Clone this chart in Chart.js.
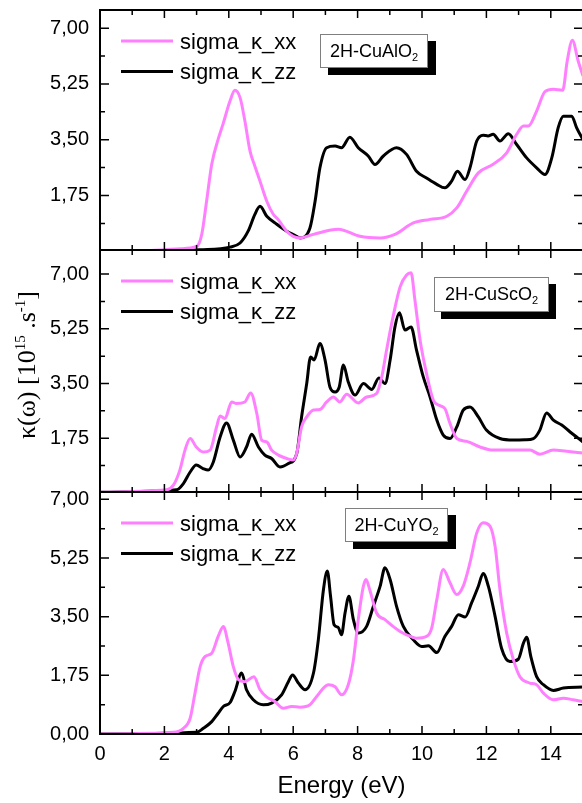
<!DOCTYPE html>
<html>
<head>
<meta charset="utf-8">
<script src="https://cdn.jsdelivr.net/npm/chart.js"></script>
<style>
  html, body { margin: 0; padding: 0; background: #fff; overflow: hidden; }
  #wrap { position: relative; width: 582px; height: 803px; overflow: hidden; }
  canvas { position: absolute; left: 0; }
  .tag {
    position: absolute; box-sizing: border-box; background: #fff;
    border: 1px solid #7f7f7f; box-shadow: 8px 7px 0 #000;
    font: 18px "Liberation Sans", Arial, sans-serif; text-align: center; white-space: nowrap;
  }
  .tag sub { font-size: 11px; vertical-align: -4px; line-height: 0; }
  #ytitle {
    position: absolute; left: -73px; top: 350px; width: 200px; height: 30px; line-height: 30px;
    text-align: center; white-space: nowrap; transform: rotate(-90deg);
    font: 26px "Liberation Serif", "Times New Roman", serif;
  }
  #ytitle sup { font-size: 15px; vertical-align: 10px; line-height: 0; }
</style>
</head>
<body>
<div id="wrap">
  <canvas id="alPanel" width="610" height="252" style="top:0"></canvas>
  <canvas id="scPanel" width="610" height="262" style="top:240px"></canvas>
  <canvas id="yPanel" width="610" height="321" style="top:482px"></canvas>
  <div class="tag" style="left:320px;top:34px;width:108px;height:34px;line-height:32px">2H-CuAlO<sub>2</sub></div>
  <div class="tag" style="left:434px;top:277px;width:115px;height:35px;line-height:33px;box-shadow:7px 7px 0 #000">2H-CuScO<sub>2</sub></div>
  <div class="tag" style="left:345px;top:508px;width:103px;height:34px;line-height:32px">2H-CuYO<sub>2</sub></div>
  <div id="ytitle">κ(ω) [10<sup>15</sup> .s<sup>-1</sup>]</div>
</div>
<script>
const energyTicks = [0, 2, 4, 6, 8, 10, 12, 14];
const kappaTicks = [0, 1.75, 3.5, 5.25, 7];
const seriesNames = ['sigma_κ_xx', 'sigma_κ_zz'];
const pink = '#ff80ff';
const black = '#000000';

// 2H-CuAlO2
const alEnergyXX = [0, 1, 2, 2.5, 3, 3.16, 3.31, 3.47, 3.67, 3.82, 4.04, 4.19, 4.35, 4.5, 4.66, 4.81, 4.97, 5.18, 5.38, 5.53, 5.8, 6, 6.21, 6.63, 7.4, 8.07, 8.7, 9.16, 9.73, 10.25, 10.77, 11.08, 11.39, 11.75, 12.21, 12.63, 12.94, 13.15, 13.3, 13.56, 13.82, 14.08, 14.37, 14.51, 14.67, 14.85, 15];
const alXX = [0, 0, 0.05, 0.08, 0.15, 0.53, 1.57, 2.73, 3.52, 3.99, 4.72, 5.05, 4.82, 4.09, 3.14, 2.67, 2.2, 1.57, 1.16, 1.0, 0.63, 0.47, 0.42, 0.53, 0.69, 0.47, 0.42, 0.53, 0.89, 1.0, 1.1, 1.36, 1.89, 2.46, 2.73, 3.09, 3.67, 3.93, 3.93, 4.4, 5.01, 5.08, 5.05, 5.97, 6.62, 5.97, 5.5];
const alEnergyZZ = [0, 2, 3.1, 4.04, 4.35, 4.6, 4.81, 4.97, 5.18, 5.49, 5.8, 6.05, 6.21, 6.52, 6.68, 6.83, 7.04, 7.3, 7.5, 7.76, 8.02, 8.33, 8.54, 8.8, 9.21, 9.52, 9.83, 10.14, 10.46, 10.71, 10.92, 11.1, 11.34, 11.49, 11.7, 11.9, 12.05, 12.21, 12.42, 12.68, 12.94, 13.25, 13.56, 13.82, 14.03, 14.23, 14.39, 14.65, 14.8, 15];
const alZZ = [0, 0.02, 0.05, 0.13, 0.26, 0.63, 1.16, 1.41, 1.1, 0.85, 0.63, 0.5, 0.42, 0.73, 1.57, 2.62, 3.25, 3.3, 3.25, 3.58, 3.25, 2.99, 2.72, 2.99, 3.25, 3.04, 2.51, 2.3, 2.1, 1.99, 2.2, 2.51, 2.25, 2.62, 3.46, 3.64, 3.62, 3.67, 3.46, 3.69, 3.35, 2.93, 2.62, 2.41, 2.93, 3.88, 4.24, 4.24, 3.88, 3.5];

// 2H-CuScO2
const scEnergyXX = [0, 2.07, 2.28, 2.48, 2.64, 2.8, 2.99, 3.2, 3.42, 3.62, 3.73, 3.88, 4.09, 4.24, 4.5, 4.68, 4.87, 5.02, 5.18, 5.33, 5.54, 5.8, 6, 6.11, 6.26, 6.42, 6.63, 6.83, 7.04, 7.25, 7.45, 7.66, 8.02, 8.28, 8.59, 8.75, 8.9, 9.1, 9.32, 9.52, 9.66, 9.78, 9.94, 10.14, 10.35, 10.51, 10.71, 10.87, 11.08, 11.39, 11.8, 12.21, 12.84, 13.35, 13.66, 14.08, 14.49, 15];
const scXX = [0.02, 0.1, 0.25, 0.73, 1.37, 1.74, 1.47, 1.31, 1.37, 2.11, 2.46, 2.38, 2.91, 2.86, 2.91, 3.2, 2.54, 1.69, 1.63, 1.37, 1.21, 1.1, 1.05, 1.27, 2.11, 2.43, 2.65, 2.67, 2.91, 3.07, 2.91, 3.16, 2.88, 3.07, 3.18, 3.71, 4.57, 5.63, 6.59, 6.97, 7.04, 6.17, 4.89, 3.82, 2.97, 2.81, 2.7, 2.22, 1.74, 1.65, 1.47, 1.37, 1.37, 1.37, 1.24, 1.37, 1.33, 1.28];
const scEnergyZZ = [0, 2.38, 2.59, 2.8, 2.99, 3.2, 3.36, 3.52, 3.73, 3.93, 4.14, 4.35, 4.55, 4.71, 4.92, 5.12, 5.33, 5.59, 5.85, 6.11, 6.26, 6.42, 6.54, 6.65, 6.83, 6.99, 7.14, 7.3, 7.43, 7.56, 7.71, 7.92, 8.18, 8.44, 8.66, 8.85, 9.01, 9.16, 9.3, 9.47, 9.66, 9.83, 10.04, 10.25, 10.46, 10.66, 10.87, 11.08, 11.28, 11.49, 11.75, 12, 12.42, 12.84, 13.2, 13.46, 13.66, 13.87, 14.08, 14.34, 14.6, 15];
const scZZ = [0.02, 0.1, 0.3, 0.67, 0.89, 0.78, 0.73, 0.99, 1.79, 2.24, 1.69, 1.15, 1.47, 1.88, 1.47, 1.21, 1.1, 0.83, 0.94, 1.26, 2.43, 3.5, 4.35, 4.25, 4.78, 4.25, 3.39, 3.23, 3.39, 4.09, 3.55, 3.13, 3.5, 3.31, 3.68, 3.5, 4.25, 5.31, 5.76, 5.21, 5.31, 4.57, 3.71, 3.07, 2.33, 1.85, 1.74, 2.11, 2.65, 2.75, 2.43, 2.01, 1.74, 1.69, 1.7, 1.74, 2.01, 2.56, 2.33, 2.17, 1.95, 1.63];

// 2H-CuYO2
const yEnergyXX = [0, 2.28, 2.59, 2.8, 2.95, 3.11, 3.26, 3.47, 3.67, 3.83, 3.98, 4.14, 4.3, 4.5, 4.78, 4.97, 5.18, 5.43, 5.69, 5.95, 6.21, 6.52, 6.73, 7.09, 7.3, 7.5, 7.71, 7.87, 8.02, 8.18, 8.26, 8.39, 8.59, 8.85, 9.1, 9.32, 9.52, 9.83, 10.14, 10.3, 10.46, 10.66, 10.87, 11.08, 11.28, 11.49, 11.7, 11.9, 12.11, 12.27, 12.42, 12.63, 12.84, 13.04, 13.35, 13.56, 13.77, 14.08, 14.39, 14.7, 15];
const yXX = [0, 0.05, 0.17, 0.47, 1.22, 2.01, 2.31, 2.41, 2.91, 3.21, 2.71, 2.01, 1.62, 1.56, 1.71, 1.32, 1.1, 0.97, 0.77, 0.82, 0.8, 0.87, 1.12, 1.47, 1.41, 1.17, 1.47, 2.21, 3.41, 4.41, 4.61, 4.26, 3.61, 3.41, 3.21, 3.06, 2.96, 2.86, 2.91, 3.16, 4.01, 4.91, 4.51, 4.16, 4.41, 5.11, 6.0, 6.3, 6.2, 5.6, 4.31, 3.01, 2.21, 1.71, 1.52, 1.47, 1.22, 1.02, 1.07, 1.02, 0.97];
const yEnergyZZ = [0, 3, 3.21, 3.47, 3.67, 3.83, 4.04, 4.19, 4.4, 4.55, 4.76, 5.07, 5.33, 5.64, 5.85, 5.98, 6.16, 6.37, 6.63, 6.78, 6.94, 7.06, 7.16, 7.27, 7.4, 7.5, 7.61, 7.73, 7.87, 8.02, 8.28, 8.49, 8.7, 8.85, 9.01, 9.21, 9.42, 9.73, 9.99, 10.2, 10.46, 10.71, 10.92, 11.13, 11.34, 11.54, 11.75, 11.9, 12.06, 12.27, 12.47, 12.73, 12.99, 13.15, 13.25, 13.38, 13.56, 13.77, 14.08, 14.39, 15];
const yZZ = [0, 0.05, 0.17, 0.37, 0.62, 0.82, 0.94, 1.27, 1.82, 1.32, 1.02, 0.87, 0.92, 1.17, 1.56, 1.76, 1.52, 1.32, 1.82, 2.81, 4.31, 4.86, 4.11, 3.26, 3.18, 2.96, 3.61, 4.11, 3.41, 3.01, 3.21, 3.81, 4.41, 4.96, 4.61, 3.81, 3.21, 2.81, 2.61, 2.63, 2.43, 2.91, 3.21, 3.56, 3.49, 3.91, 4.41, 4.79, 4.41, 3.51, 2.56, 2.16, 2.23, 2.71, 2.89, 2.31, 1.71, 1.47, 1.3, 1.37, 1.4];

const sansFont = '"Liberation Sans", Arial, sans-serif';
Chart.defaults.font.family = sansFont;
Chart.defaults.color = '#000';

// box around the plot area with inward ticks on all four sides
const panelFrame = {
  id: 'panelFrame',
  afterDatasetsDraw(chart) {
    const { ctx, chartArea: a, scales: { x, y } } = chart;
    ctx.save();
    ctx.strokeStyle = '#000';
    ctx.lineWidth = 1.5;
    ctx.beginPath();
    for (let e = 0; e <= 15; e++) {
      const px = x.getPixelForValue(e);
      const len = e % 2 === 0 ? 8 : 5;
      ctx.moveTo(px, a.bottom); ctx.lineTo(px, a.bottom - len);
      ctx.moveTo(px, a.top); ctx.lineTo(px, a.top + len);
    }
    for (let k = 0; k <= 8; k++) {
      const v = k * 0.875;
      if (v < y.min || v > y.max) continue;
      const py = y.getPixelForValue(v);
      const len = k % 2 === 0 ? 9 : 5;
      ctx.moveTo(a.left, py); ctx.lineTo(a.left + len, py);
      ctx.moveTo(a.right, py); ctx.lineTo(a.right - len, py);
    }
    ctx.stroke();
    ctx.lineWidth = 2;
    ctx.strokeRect(a.left, a.top, a.right - a.left, a.bottom - a.top);
    ctx.restore();
  }
};

// legend drawn inside the plot, top left
const panelLegend = {
  id: 'panelLegend',
  afterDatasetsDraw(chart) {
    const { ctx, chartArea: a } = chart;
    ctx.save();
    chart.data.datasets.forEach((ds, i) => {
      const yy = a.top + 31 + i * 30.5;
      ctx.strokeStyle = ds.borderColor;
      ctx.lineWidth = 3;
      ctx.beginPath();
      ctx.moveTo(121, yy);
      ctx.lineTo(173, yy);
      ctx.stroke();
      ctx.fillStyle = '#000';
      ctx.font = '22px ' + sansFont;
      ctx.textBaseline = 'alphabetic';
      ctx.fillText(ds.label, 180, yy + 7.5);
    });
    ctx.restore();
  }
};

// fixed axis boxes, so every panel gets the same plot area
const noMargins = s => {
  s.paddingTop = 0; s.paddingBottom = 0; s.paddingLeft = 0; s.paddingRight = 0;
};

function makePanel(id, series, yMin, yMax, yLabels, padBottom, showX) {
  return new Chart(document.getElementById(id), {
    type: 'line',
    data: {
      datasets: series.map(([energy, values, color], i) => ({
        label: seriesNames[i],
        data: energy.map((e, j) => ({ x: e, y: values[j] })),
        borderColor: color,
        borderWidth: 3,
        pointRadius: 0,
        cubicInterpolationMode: 'monotone',
        fill: false
      }))
    },
    options: {
      responsive: false,
      animation: false,
      layout: { padding: { top: 10, right: 27, bottom: padBottom, left: 0 } },
      plugins: { legend: { display: false }, tooltip: { enabled: false } },
      scales: {
        x: {
          type: 'linear', min: 0, max: 15, display: showX,
          grid: { display: false, drawTicks: false },
          border: { display: false },
          afterBuildTicks: s => { s.ticks = energyTicks.map(v => ({ value: v })); },
          afterFit: s => { s.height = showX ? 69 : 0; noMargins(s); },
          ticks: { padding: 8, font: { size: 20 }, maxRotation: 0 },
          title: { display: true, text: 'Energy (eV)', font: { size: 24 }, padding: { top: 0, bottom: 2 } }
        },
        y: {
          type: 'linear', min: yMin, max: yMax,
          grid: { display: false, drawTicks: false },
          border: { display: false },
          afterBuildTicks: s => { s.ticks = yLabels.map(v => ({ value: v })); },
          afterFit: s => { s.width = 100; noMargins(s); },
          ticks: { padding: 11, font: { size: 20 }, callback: v => v.toFixed(2).replace('.', ',') }
        }
      }
    },
    plugins: [panelFrame, panelLegend]
  });
}

makePanel('alPanel', [[alEnergyXX, alXX, pink], [alEnergyZZ, alZZ, black]], 0.04, 7.57, kappaTicks.slice(1), 2, false);
makePanel('scPanel', [[scEnergyXX, scXX, pink], [scEnergyZZ, scZZ, black]], 0.03, 7.77, kappaTicks.slice(1), 10, false);
makePanel('yPanel', [[yEnergyXX, yXX, pink], [yEnergyZZ, yZZ, black]], 0, 7.22, kappaTicks, 0, true);
</script>
</body>
</html>
